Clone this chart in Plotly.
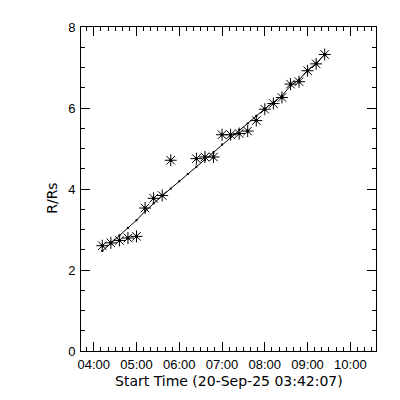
import plotly.graph_objects as go

day = "2025-09-20 "
obs_times = ["04:12", "04:24", "04:36", "04:48", "05:00", "05:12", "05:24", "05:36",
             "05:48", "06:24", "06:36", "06:48", "07:00", "07:12", "07:24", "07:36",
             "07:48", "08:00", "08:12", "08:24", "08:36", "08:48", "09:00", "09:12", "09:24"]
obs_r = [2.60, 2.67, 2.73, 2.79, 2.83, 3.53, 3.77, 3.84,
         4.71, 4.75, 4.79, 4.79, 5.34, 5.34, 5.37, 5.43,
         5.69, 5.97, 6.11, 6.26, 6.59, 6.65, 6.92, 7.09, 7.32]

fit_times = ["04:12", "04:24", "04:36", "04:48", "05:00", "05:12", "05:24", "05:36",
             "05:48", "06:00", "06:12", "06:24", "06:36", "06:48", "07:00", "07:12",
             "07:24", "07:36", "07:48", "08:00", "08:12", "08:24", "08:36", "08:48",
             "09:00", "09:12", "09:24"]
fit_r = [2.47, 2.66, 2.85, 3.04, 3.23, 3.45, 3.65, 3.83,
         4.01, 4.19, 4.37, 4.55, 4.72, 4.90, 5.10, 5.28,
         5.46, 5.62, 5.80, 5.98, 6.14, 6.30, 6.55, 6.70,
         6.92, 7.10, 7.32]

x_start = day + "03:42:07"
x_end = day + "10:36:00"
y_tickvals = [0, 2, 4, 6, 8]
x_title = "Start Time (20-Sep-25 03:42:07)"
y_title = "R/Rs"

font = dict(family="Liberation Sans, Arial, sans-serif", size=13, color="black")
title_font = dict(family="DejaVu Sans, sans-serif", size=14, color="black")

fig = go.Figure()
fig.add_trace(go.Scatter(
    x=[day + t for t in fit_times], y=fit_r, mode="lines+markers",
    line=dict(color="black", width=1),
    marker=dict(symbol="square", size=2, color="black"),
    showlegend=False, hoverinfo="skip"))
fig.add_trace(go.Scatter(
    x=[day + t for t in obs_times], y=obs_r, mode="markers",
    marker=dict(symbol="asterisk-open", size=10, color="black",
                line=dict(color="black", width=1)),
    showlegend=False))
fig.add_trace(go.Scatter(
    x=[day + t for t in obs_times], y=obs_r, mode="markers",
    marker=dict(symbol="square", size=3, color="black"),
    showlegend=False, hoverinfo="skip"))

fig.update_layout(
    width=392, height=392,
    margin=dict(l=73, r=24, t=16, b=49),
    paper_bgcolor="white", plot_bgcolor="white",
    font=font,
    showlegend=False,
    annotations=[
        dict(text=x_title, x=0.5, xref="paper", y=-0.093, yref="paper",
             xanchor="center", yanchor="middle", showarrow=False, font=title_font),
        dict(text=y_title, x=-0.098, xref="paper", y=0.47, yref="paper",
             xanchor="center", yanchor="middle", textangle=-90, showarrow=False,
             font=title_font),
    ],
)
fig.update_xaxes(
    type="date", range=[x_start, x_end],
    tickformat="%H:%M", dtick=3600000, tick0=day + "04:00",
    ticks="inside", ticklen=9, tickwidth=1, tickcolor="black",
    minor=dict(dtick=600000, tick0=day + "04:00", ticks="inside", ticklen=4,
               tickwidth=1, tickcolor="black", showgrid=False),
    showline=True, linecolor="black", linewidth=1, mirror="ticks",
    showgrid=False, zeroline=False, ticklabelstandoff=1,
)
fig.update_yaxes(
    range=[0, 8], tickvals=y_tickvals,
    ticks="inside", ticklen=9, tickwidth=1, tickcolor="black",
    minor=dict(dtick=0.5, ticks="inside", ticklen=4, tickwidth=1,
               tickcolor="black", showgrid=False),
    showline=True, linecolor="black", linewidth=1, mirror="ticks",
    showgrid=False, zeroline=False, ticklabelstandoff=2,
)

fig.write_html("out.html")
